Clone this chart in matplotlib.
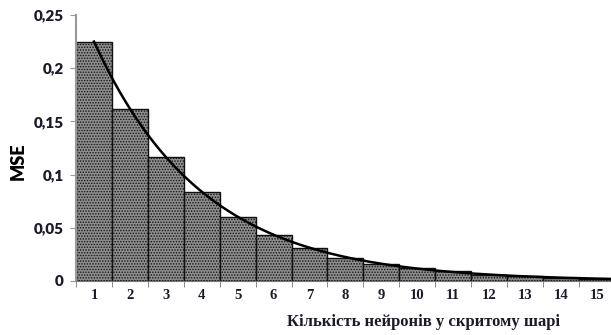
import numpy as np
import matplotlib.pyplot as plt

neurons = list(range(1, 16))
mse = [0.225, 0.162, 0.117, 0.084, 0.060, 0.043, 0.031, 0.022,
       0.016, 0.012, 0.009, 0.006, 0.0045, 0.003, 0.0022]
yticks = [0, 0.05, 0.1, 0.15, 0.2, 0.25]
ytick_labels = ['0', '0,05', '0,1', '0,15', '0,2', '0,25']

fig = plt.figure(figsize=(6.11, 3.35), dpi=100)
ax = fig.add_axes([0.1244, 0.1612, 0.882, 0.794])

plt.rcParams['hatch.color'] = '#2a2a2a'
plt.rcParams['hatch.linewidth'] = 0.7
ax.bar(neurons, mse, width=1.0, color='#8e8e8e', edgecolor='#111111',
       linewidth=1.0, hatch='......')

# exponential trend line (like Excel), fitted on the bar values
k, b = np.polyfit(neurons, np.log(mse), 1)
xs = np.linspace(1, 15.5, 200)
ax.plot(xs, np.exp(b + k * xs), color='black', linewidth=1.8)

ax.set_xlim(0.5, 15.5)
ax.set_ylim(0, 0.25)
ax.set_yticks(yticks)
ax.set_yticklabels(ytick_labels, fontfamily='Lato', fontweight='heavy',
                   fontsize=11, color='#1a1a2a')
ax.set_xticks(neurons)
ax.set_xticklabels([str(n) for n in neurons], fontfamily='Liberation Serif',
                   fontweight='bold', fontsize=10.5, color='#1a1a2a')
ax.set_xticks(np.arange(0.5, 16, 1), minor=True)
ax.tick_params(axis='x', which='major', length=0, pad=6)
ax.tick_params(axis='x', which='minor', length=4, color='#777777')
ax.tick_params(axis='y', length=4, color='#999999', pad=5)

ax.spines['top'].set_visible(False)
ax.spines['right'].set_visible(False)
ax.spines['left'].set_color('#999999')
ax.spines['left'].set_linewidth(1.5)
ax.spines['bottom'].set_color('#777777')

fig.text(0.03, 0.52, 'MSE', rotation=90, ha='center', va='center',
         fontfamily='Lato', fontweight='heavy', fontsize=13)
fig.text(0.693, 0.04, 'Кількість нейронів у скритому шарі', ha='center',
         va='center', fontfamily='Liberation Serif', fontweight='bold',
         fontsize=12, color='#1a1a2a')

fig.savefig('out.png', dpi=100)
